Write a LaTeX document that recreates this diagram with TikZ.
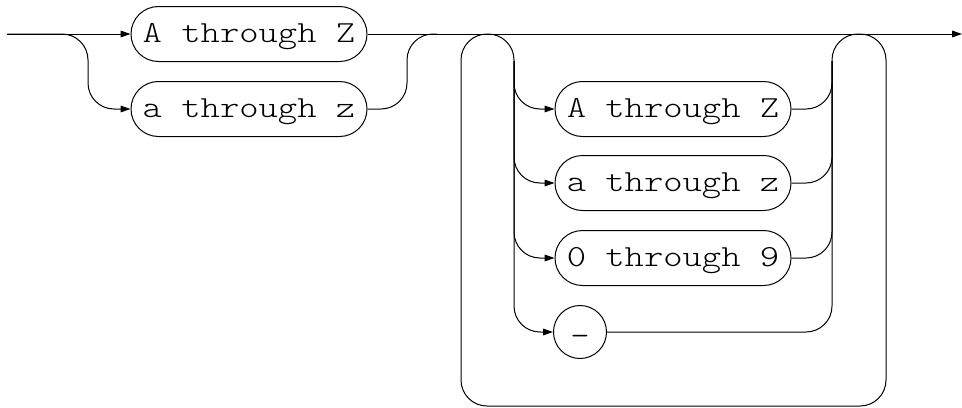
\documentclass[tikz,border=0pt]{standalone}
\usepackage{fontspec}
\setmonofont{Latin Modern Mono Light}[FakeStretch=1.2]
\usetikzlibrary{arrows.meta}

\begin{document}
\begin{tikzpicture}[x=0.75pt,y=-0.75pt,
  rail/.style={line width=0.75pt, rounded corners=19.5pt},
  railarrow/.style={rail, -{Triangle[length=7.5pt,width=5pt]}},
  term/.style={draw, line width=0.75pt, rounded corners=20.6pt,
    minimum width=177pt, minimum height=41.25pt, inner sep=0pt,
    text height=14pt, text depth=1.7pt,
    font=\ttfamily\fontsize{23}{23}\selectfont},
  termdot/.style={draw, circle, line width=0.75pt, minimum size=39.75pt,
    inner sep=0pt, text height=20pt, text depth=0pt,
    font=\ttfamily\fontsize{23}{23}\selectfont}]
\useasboundingbox (0,0) rectangle (962,407);

% First letter
\node[term] (upA) at (249,34) {A through Z};
\node[term] (lowa) at (249,109) {a through z};

% Repeated letters, digits and dash
\node[term] (inA) at (673,109) {A through Z};
\node[term] (ina) at (673,183) {a through z};
\node[term] (dig) at (673,258) {0 through 9};
\node[termdot] (dash) at (580,332) {-};

% Junction points
\coordinate (start) at (7,34);
\coordinate (end) at (962,34);
\coordinate (forkA) at (88,34);
\coordinate (joinA) at (407,34);
\coordinate (jl) at (514,61);
\coordinate (jr) at (832,61);

% Main line
\draw[railarrow] (start) -- (upA.west);
\draw[railarrow] (start) -- (forkA) |- (lowa.west);
\draw[railarrow] (upA.east) -- (end);
\draw[rail] (lowa.east) -| (joinA) -- ++(30,0);

% Loop back
\draw[rail] (jr) -- (832,34) -- (886,34) -- (886,406) -- (461,406)
  -- (461,34) -- (514,34) -- (jl);

% Choices inside the loop
\foreach \n in {inA,ina,dig,dash} {
  \draw[railarrow] (jl) |- (\n.west);
  \draw[rail] (\n.east) -| (jr);
}
\end{tikzpicture}
\end{document}
